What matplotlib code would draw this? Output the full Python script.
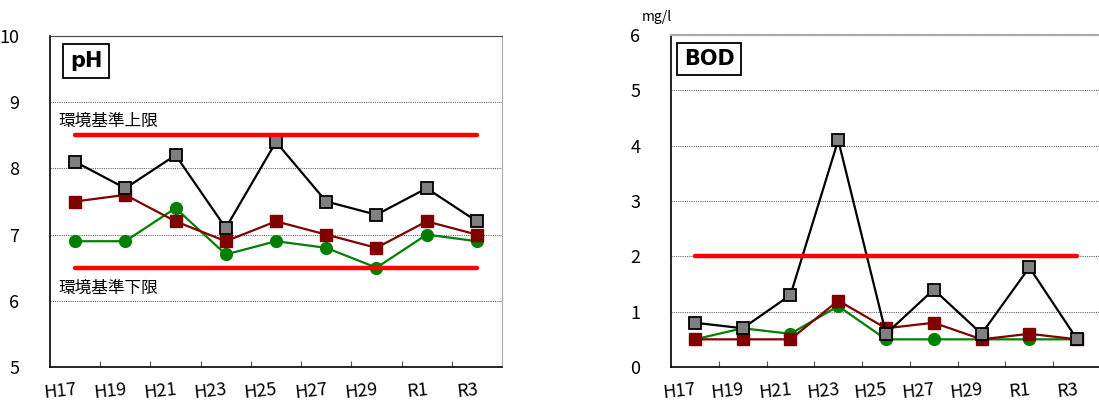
import numpy as np
import matplotlib
matplotlib.use("Agg")
import matplotlib.pyplot as plt

plt.rcParams['font.family'] = ['Noto Sans CJK JP', 'DejaVu Sans']

years = ["H17", "H19", "H21", "H23", "H25", "H27", "H29", "R1", "R3"]

ph_gray = [8.1, 7.7, 8.2, 7.1, 8.4, 7.5, 7.3, 7.7, 7.2]
ph_red = [7.5, 7.6, 7.2, 6.9, 7.2, 7.0, 6.8, 7.2, 7.0]
ph_green = [6.9, 6.9, 7.4, 6.7, 6.9, 6.8, 6.5, 7.0, 6.9]
ph_upper = 8.5
ph_lower = 6.5

bod_gray = [0.8, 0.7, 1.3, 4.1, 0.6, 1.4, 0.6, 1.8, 0.5]
bod_red = [0.5, 0.5, 0.5, 1.2, 0.7, 0.8, 0.5, 0.6, 0.5]
bod_green = [0.5, 0.7, 0.6, 1.1, 0.5, 0.5, 0.5, 0.5, 0.5]
bod_limit = 2.0

fig = plt.figure(figsize=(10.99, 4.12), dpi=100)
ax1 = fig.add_axes([50/1099, 45/412, 452/1099, 331/412])
ax2 = fig.add_axes([671/1099, 45/412, 430/1099, 332/412])

x = np.arange(len(years))


def style(ax, ymin, ymax, top_color):
    ax.set_xlim(-0.5, len(years) - 0.5)
    ax.set_ylim(ymin, ymax)
    ax.set_yticks(np.arange(ymin, ymax + 1, 1))
    ax.yaxis.grid(True, linestyle=(0, (1, 1)), color='#666666', linewidth=0.8)
    ax.set_axisbelow(True)
    ax.tick_params(axis='y', length=0, pad=22, labelsize=13)
    ax.set_yticklabels([str(v) for v in range(ymin, ymax + 1)], ha='right')
    # category boundary ticks
    ax.set_xticks(np.arange(0.5, len(years) - 0.5, 1.0))
    ax.set_xticklabels([])
    ax.tick_params(axis='x', which='major', direction='in', length=4, width=0.8, color='#555555')
    ax.set_xticks(x, minor=True)
    ax.set_xticklabels(years, minor=True, rotation=6, ha='right', va='top',
                       rotation_mode='anchor', fontsize=13)
    ax.tick_params(axis='x', which='minor', length=0, pad=10)
    ax.spines['left'].set_color('black')
    ax.spines['bottom'].set_color('black')
    ax.spines['left'].set_linewidth(1.2)
    ax.spines['bottom'].set_linewidth(1.2)
    ax.spines['top'].set_color(top_color)
    ax.spines['right'].set_color('#aaaaaa')


def series(ax, g, r, gr):
    ax.plot(x, gr, color='#008000', lw=1.6, marker='o', ms=8.5,
            mfc='#008000', mec='#008000', zorder=3)
    ax.plot(x, r, color='#800000', lw=1.6, marker='s', ms=8.5,
            mfc='#800000', mec='#800000', zorder=4)
    ax.plot(x, g, color='black', lw=1.6, marker='s', ms=8.5,
            mfc='#808080', mec='black', mew=1.3, zorder=5)


style(ax1, 5, 10, '#444444')
series(ax1, ph_gray, ph_red, ph_green)
ax1.plot([x[0], x[-1]], [ph_upper, ph_upper], color='#ff0000', lw=3.2,
         solid_capstyle='round', zorder=6)
ax1.plot([x[0], x[-1]], [ph_lower, ph_lower], color='#ff0000', lw=3.2,
         solid_capstyle='round', zorder=6)
ax1.text(58/1099, (412-121)/412, "環境基準上限", transform=fig.transFigure,
         fontsize=12, va='center', ha='left')
ax1.text(58/1099, (412-288)/412, "環境基準下限", transform=fig.transFigure,
         fontsize=12, va='center', ha='left')
ax1.text(86/1099, (412-61)/412, "pH", transform=fig.transFigure,
         fontsize=15, fontweight='bold', va='center', ha='center',
         family=['DejaVu Sans'],
         bbox=dict(boxstyle='square,pad=0.32', fc='white', ec='black', lw=1.3))

style(ax2, 0, 6, '#aaaaaa')
ax2.spines['top'].set_linewidth(1.5)
series(ax2, bod_gray, bod_red, bod_green)
ax2.plot([x[0], x[-1]], [bod_limit, bod_limit], color='#ff0000', lw=3.2,
         solid_capstyle='round', zorder=6)
ax2.text(709/1099, (412-59)/412, "BOD", transform=fig.transFigure,
         fontsize=15, fontweight='bold', va='center', ha='center',
         family=['DejaVu Sans'],
         bbox=dict(boxstyle='square,pad=0.3', fc='white', ec='black', lw=1.3))
ax2.text(657/1099, (412-17)/412, "mg/l", transform=fig.transFigure,
         fontsize=10, va='center', ha='center')

fig.savefig("out.png", dpi=100)
